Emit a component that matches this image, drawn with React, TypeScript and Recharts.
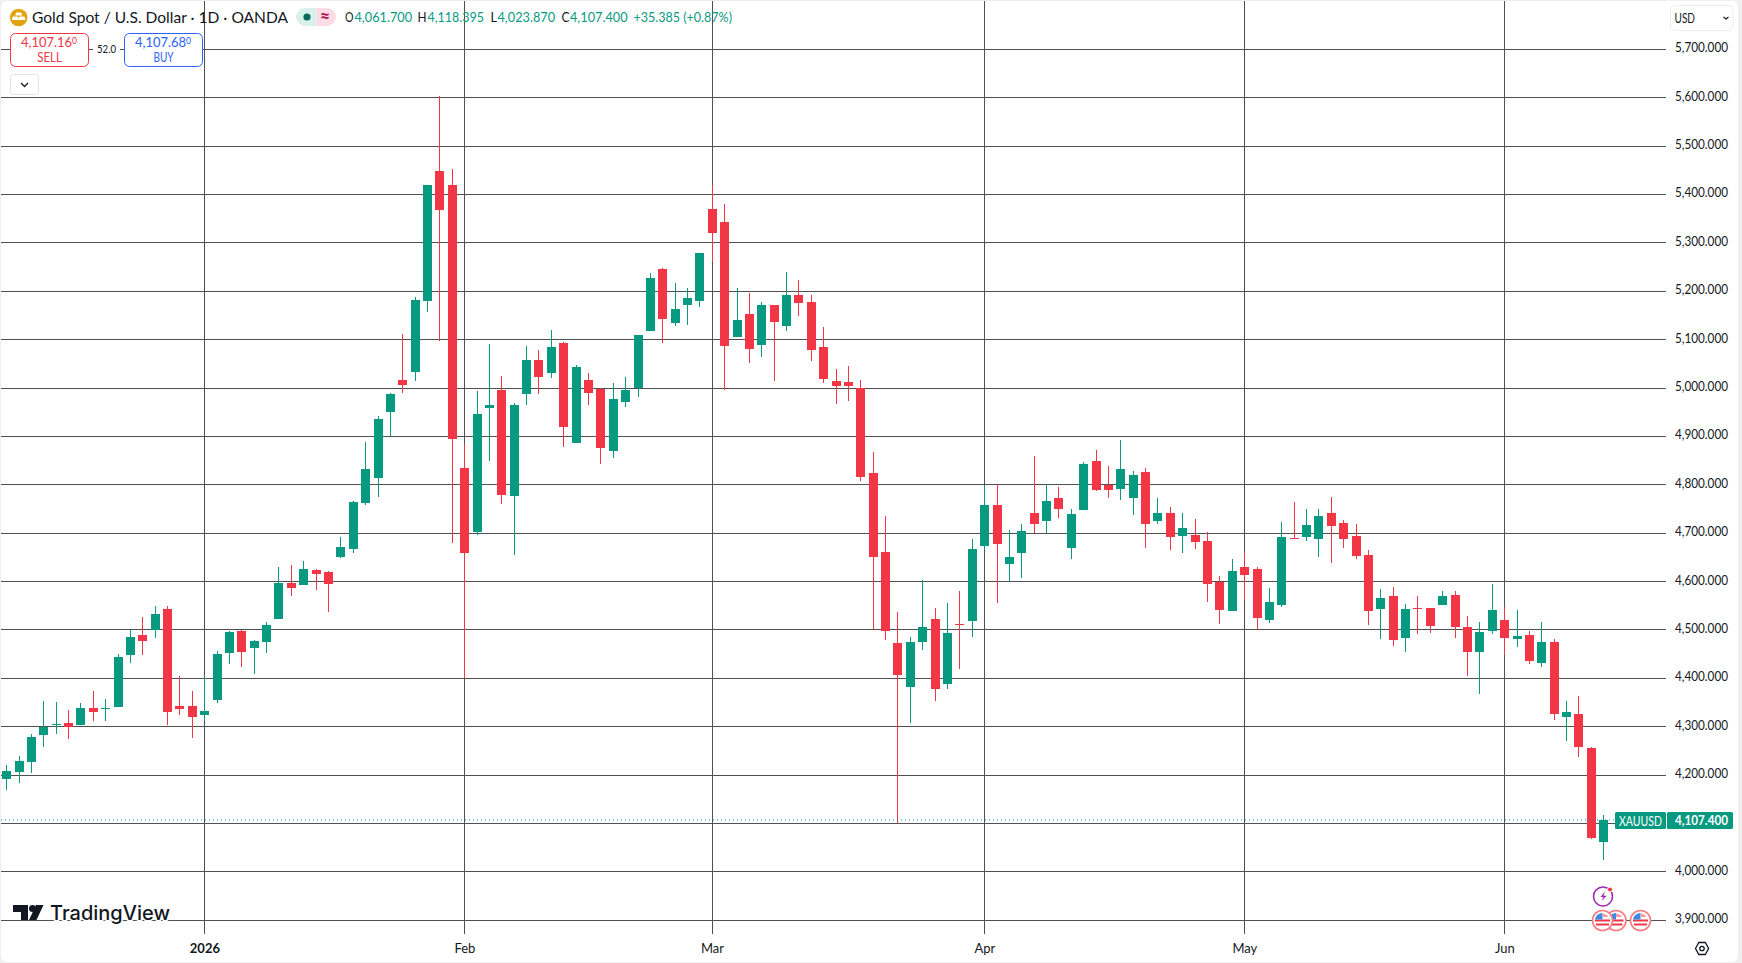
import { ComposedChart, Bar, XAxis, YAxis, CartesianGrid, ReferenceLine } from 'recharts';

const UP = '#089981';
const DOWN = '#F23645';
const FONT = 'Lato, "Noto Sans", sans-serif';

const opens = [
    4191, 4207, 4228, 4282, 4304, 4308, 4303, 4339, 4336, 4340,
    4449, 4490, 4500, 4544, 4343, 4343, 4325, 4356, 4453, 4498,
    4462, 4476, 4522, 4597, 4592, 4624, 4620, 4650, 4668, 4762,
    4815, 4950, 5016, 5033, 5180, 5448, 5419, 4834, 4702, 4958,
    4995, 4777, 4988, 5057, 5031, 5094, 4886, 5016, 4997, 4870,
    4971, 5000, 5118, 5245, 5134, 5172, 5180, 5369, 5344, 5105,
    5152, 5089, 5171, 5128, 5192, 5177, 5084, 5014, 5012, 5001,
    4824, 4661, 4474, 4382, 4476, 4523, 4388, 4512, 4518, 4674,
    4758, 4637, 4660, 4742, 4726, 4773, 4670, 4747, 4849, 4799,
    4792, 4773, 4826, 4726, 4742, 4695, 4696, 4684, 4600, 4540,
    4630, 4626, 4520, 4551, 4690, 4693, 4687, 4742, 4721, 4694,
    4655, 4544, 4570, 4484, 4546, 4546, 4551, 4573, 4506, 4455,
    4497, 4521, 4482, 4490, 4431, 4475, 4321, 4327, 4256, 4061.7,
];
const highs = [
    4221, 4240, 4285, 4354, 4351, 4335, 4349, 4374, 4358, 4451,
    4500, 4527, 4550, 4550, 4405, 4374, 4403, 4457, 4498, 4500,
    4480, 4517, 4630, 4635, 4643, 4626, 4622, 4692, 4767, 4889,
    4943, 4989, 5111, 5189, 5419, 5603, 5452, 4885, 4993, 5092,
    5024, 4970, 5086, 5078, 5119, 5096, 5047, 5032, 5001, 5010,
    5022, 5109, 5237, 5249, 5218, 5206, 5280, 5419, 5380, 5206,
    5196, 5177, 5171, 5239, 5223, 5192, 5127, 5039, 5045, 5016,
    4868, 4736, 4538, 4486, 4604, 4546, 4556, 4581, 4688, 4799,
    4802, 4707, 4719, 4859, 4802, 4796, 4750, 4847, 4872, 4839,
    4892, 4828, 4835, 4773, 4754, 4742, 4729, 4703, 4612, 4647,
    4661, 4630, 4587, 4723, 4765, 4750, 4750, 4775, 4728, 4719,
    4666, 4585, 4589, 4554, 4570, 4546, 4581, 4581, 4529, 4517,
    4595, 4548, 4542, 4498, 4517, 4482, 4354, 4364, 4258, 4118.395,
];
const lows = [
    4170, 4183, 4205, 4259, 4285, 4274, 4303, 4311, 4311, 4340,
    4431, 4449, 4484, 4303, 4325, 4276, 4311, 4350, 4429, 4424,
    4410, 4453, 4522, 4571, 4592, 4582, 4538, 4648, 4660, 4758,
    4774, 4900, 4990, 5015, 5157, 5097, 4680, 4400, 4696, 4849,
    4760, 4655, 4965, 4988, 5021, 4878, 4886, 4965, 4843, 4855,
    4961, 4981, 5118, 5093, 5128, 5130, 5167, 5260, 4996, 5105,
    5052, 5064, 5015, 5118, 5149, 5056, 5010, 4968, 4973, 4808,
    4503, 4479, 4101, 4307, 4458, 4353, 4378, 4419, 4485, 4666,
    4555, 4602, 4608, 4701, 4700, 4732, 4646, 4747, 4788, 4773,
    4769, 4738, 4670, 4718, 4666, 4660, 4668, 4557, 4512, 4540,
    4561, 4503, 4515, 4548, 4687, 4683, 4650, 4639, 4670, 4646,
    4511, 4482, 4466, 4455, 4491, 4493, 4551, 4484, 4404, 4367,
    4491, 4449, 4464, 4429, 4424, 4313, 4270, 4238, 4069, 4023.87,
];
const closes = [
    4209, 4230, 4279, 4299, 4306, 4299, 4339, 4331, 4339, 4444,
    4486, 4478, 4533, 4331, 4337, 4321, 4333, 4451, 4496, 4455,
    4478, 4511, 4597, 4586, 4626, 4615, 4596, 4672, 4765, 4833,
    4937, 4987, 5006, 5181, 5419, 5368, 4895, 4659, 4946, 4964,
    4779, 4964, 5057, 5023, 5084, 4919, 5043, 4990, 4876, 4977,
    4995, 5109, 5227, 5143, 5163, 5185, 5278, 5320, 5087, 5140,
    5081, 5171, 5136, 5192, 5176, 5079, 5019, 5004, 5004, 4816,
    4650, 4497, 4406, 4476, 4507, 4378, 4494, 4511, 4668, 4758,
    4677, 4651, 4705, 4718, 4767, 4749, 4740, 4843, 4790, 4790,
    4833, 4820, 4720, 4742, 4693, 4711, 4681, 4596, 4542, 4622,
    4613, 4524, 4558, 4692, 4687, 4717, 4736, 4714, 4689, 4652,
    4540, 4566, 4480, 4544, 4544, 4509, 4570, 4507, 4455, 4496,
    4542, 4484, 4488, 4435, 4475, 4327, 4331, 4259, 4071, 4107.4,
];

const monthTicks = [16, 37, 57, 79, 100, 121];
const monthLabels = ['2026', 'Feb', 'Mar', 'Apr', 'May', 'Jun'];
const priceTicks = [3900, 4000, 4100, 4200, 4300, 4400, 4500, 4600, 4700, 4800, 4900, 5000, 5100, 5200, 5300, 5400, 5500, 5600, 5700];
const lastPrice = 4107.4;

const candles = opens.map((open, i) => ({
    idx: i,
    open,
    close: closes[i],
    high: highs[i],
    low: lows[i],
    range: [lows[i], highs[i]],
}));

// y/height of the bar cover the high-low span, the body is worked out from that
function Candle(props: any) {
    const { x, y, width, height, payload } = props;
    const perUnit = height / (payload.high - payload.low);
    const top = y + (payload.high - Math.max(payload.open, payload.close)) * perUnit;
    const bodyH = Math.max(Math.abs(payload.open - payload.close) * perUnit, 1);
    const color = payload.close >= payload.open ? UP : DOWN;
    const mid = Math.round(x + width / 2) - 1;
    return (
        <g shapeRendering="crispEdges">
            <rect x={mid} y={y} width={1} height={height} fill={color} />
            <rect x={mid - 4} y={top} width={9} height={bodyH} fill={color} />
        </g>
    );
}

function MonthTick({ x, y, payload }: any) {
    const label = monthLabels[monthTicks.indexOf(payload.value)];
    return (
        <text x={x} y={y + 11} textAnchor="middle" fontFamily={FONT} fontSize={13} fontWeight={label === '2026' ? 700 : 400} fill="#131722">
            {label}
        </text>
    );
}

function PriceTick({ x, y, payload }: any) {
    return (
        <text x={x} y={y + 3} fontFamily={FONT} fontSize={13} fill="#131722" textLength={53} lengthAdjust="spacingAndGlyphs">
            {payload.value.toLocaleString('en-US', { minimumFractionDigits: 3 })}
        </text>
    );
}

function Label({ x, y, w, size = 13.5, color = '#131722', weight = 400, children }: any) {
    return (
        <text x={x} y={y} fontFamily={FONT} fontSize={size} fill={color} fontWeight={weight} textLength={w} lengthAdjust="spacingAndGlyphs">
            {children}
        </text>
    );
}

function QuoteBox({ x, color, price, side, sideW }: any) {
    return (
        <g>
            <rect x={x + 0.5} y={33.5} width={78} height={33} rx={5} fill="#fff" stroke={color} />
            <text x={x + 11} y={47} fontFamily={FONT} fontSize={13.5} fill={color} textLength={56} lengthAdjust="spacingAndGlyphs">
                {price}
                <tspan fontSize={9} dy={-3}>0</tspan>
            </text>
            <Label x={x + 39.5 - sideW / 2} y={61.5} w={sideW} size={12.5} color={color}>{side}</Label>
        </g>
    );
}

function Flag({ cx, cy }: any) {
    return (
        <g>
            <circle cx={cx} cy={cy} r={10} fill="#fff" stroke="#F77C80" strokeWidth={1.6} />
            <rect x={cx - 7.5} y={cy - 1} width={15} height={2} fill="#F23645" />
            <rect x={cx - 6.5} y={cy + 3} width={13} height={2} fill="#F23645" />
            <path d={`M${cx - 7.5} ${cy - 1}a7.5 7.5 0 0 1 7.5 -6.5v6.5z`} fill="#3D8BE8" />
            <path d={`M${cx} ${cy - 7}a7.5 7.5 0 0 1 6 3.5h-6z`} fill="#F89DA3" />
        </g>
    );
}

function Overlay() {
    return (
        <svg width={1742} height={963} style={{ position: 'absolute', left: 0, top: 0 }}>
            {/* header */}
            <circle cx={18.7} cy={17.5} r={8.8} fill="#E0A30F" />
            <path d="M16.2 12.5h5l1 3h-7zM12.8 16.5h5.2l.8 3.4h-7zM19.2 16.5h5.2l1 3.4h-7z" fill="#fff" />
            <Label x={32} y={22.5} w={256} size={16}>Gold Spot  /  U.S. Dollar · 1D · OANDA</Label>
            <path d="M305 8h11.5v18H305a9 9 0 0 1 0-18z" fill="#D9F0EC" />
            <path d="M316.5 8H327a9 9 0 0 1 0 18h-10.500z" fill="#FBDCE4" />
            <circle cx={307} cy={17} r={3.6} fill="#0B6B5B" />
            <text x={325} y={22.5} textAnchor="middle" fontFamily={FONT} fontSize={18} fontWeight={700} fill="#B2175C">≈</text>
            <Label x={345} y={22} w={8.500}>O</Label>
            <Label x={354.500} y={22} w={57.500} color={UP}>4,061.700</Label>
            <Label x={417.500} y={22} w={9}>H</Label>
            <Label x={427.500} y={22} w={56.500} color={UP}>4,118.395</Label>
            <Label x={490.500} y={22} w={6.500}>L</Label>
            <Label x={497.500} y={22} w={57.500} color={UP}>4,023.870</Label>
            <Label x={561.500} y={22} w={8}>C</Label>
            <Label x={570} y={22} w={57.500} color={UP}>4,107.400</Label>
            <Label x={633.500} y={22} w={98.500} color={UP}>+35.385 (+0.87%)</Label>

            {/* sell / buy */}
            <rect x={93} y={42} width={27} height={14} fill="#fff" />
            <Label x={97} y={53} w={19} size={11.5}>52.0</Label>
            <QuoteBox x={10} color={DOWN} price="4,107.16" side="SELL" sideW={24.500} />
            <QuoteBox x={124} color="#2962FF" price="4,107.68" side="BUY" sideW={20} />
            <rect x={10.500} y={74.500} width={28} height={20} rx={3} fill="#fff" stroke="#E0E3EB" />
            <path d="M21 83l3.500 3.500 3.500-3.500" fill="none" stroke="#131722" strokeWidth={1.3} />

            {/* currency */}
            <rect x={1670.500} y={5.500} width={62.500} height={25} rx={4} fill="#fff" stroke="#E9ECF2" />
            <Label x={1674.500} y={22.500} w={20.500} size={14}>USD</Label>
            <path d="M1723.500 17l2.500 2 2.500-2" fill="none" stroke="#131722" strokeWidth={1.2} />

            {/* last price tag */}
            <rect x={1615} y={812} width={51} height={17} rx={1.500} fill={UP} />
            <rect x={1667} y={812} width={66} height={17} rx={1.500} fill={UP} />
            <Label x={1619} y={825.500} w={43} size={14} color="#fff">XAUUSD</Label>
            <Label x={1675} y={825} w={53} size={13} color="#fff" weight={700}>4,107.400</Label>

            {/* event markers */}
            <circle cx={1603} cy={896.500} r={9.500} fill="#fff" stroke="#9C27B0" strokeWidth={1.600} />
            <path d="M1605 891.500l-4.500 5.500h3l-2 4.500 5-5.800h-3z" fill="#9C27B0" />
            <circle cx={1610} cy={889.500} r={2.500} fill={DOWN} stroke="#fff" />
            <Flag cx={1616} cy={920.500} />
            <Flag cx={1602.500} cy={920.500} />
            <Flag cx={1640.500} cy={920.500} />

            {/* settings */}
            <path d="M1695.500 948.500l3.300-6h6.500l3.300 6-3.300 6h-6.500z" fill="none" stroke="#131722" strokeWidth={1.300} />
            <circle cx={1702} cy={948.500} r={2.200} fill="none" stroke="#131722" strokeWidth={1.300} />

            {/* logo */}
            <path d="M13 905h15v15h-7v-8h-8zM36 905h7.500l-7 15h-7.500z" fill="#131722" />
            <circle cx={32.500} cy={908.500} r={3.500} fill="#131722" />
            <text x={50} y={920} fontFamily="Inter, sans-serif" fontSize={20} fontWeight={500} fill="#131722" textLength={120} lengthAdjust="spacingAndGlyphs" stroke="#fff" strokeWidth={3} paintOrder="stroke">
                TradingView
            </text>
        </svg>
    );
}

export default function App() {
    return (
        <div style={{ position: 'absolute', left: 0, top: 0, width: 1742, height: 963, background: '#EFEFEF', overflow: 'hidden' }}>
            <div style={{ position: 'absolute', left: 1, top: 1, width: 1737, height: 961, background: '#fff', borderRadius: 6 }} />
            <div style={{ position: 'absolute', left: 0, top: 0 }}>
                <ComposedChart width={1742} height={963} data={candles} margin={{ top: 1, right: 0, bottom: 0, left: 1 }}>
                    <CartesianGrid stroke="#505050" strokeWidth={1} shapeRendering="crispEdges" syncWithTicks />
                    <XAxis
                        dataKey="idx"
                        type="number"
                        domain={[-0.47, 134.02]}
                        allowDataOverflow
                        ticks={monthTicks}
                        interval={0}
                        height={29}
                        axisLine={false}
                        tickLine={false}
                        tick={<MonthTick />}
                    />
                    <YAxis
                        orientation="right"
                        type="number"
                        domain={[3871.7, 5799.8]}
                        allowDataOverflow
                        ticks={priceTicks}
                        interval={0}
                        width={76}
                        axisLine={false}
                        tickLine={false}
                        tickSize={0}
                        tickMargin={9}
                        tick={<PriceTick />}
                    />
                    <ReferenceLine y={lastPrice} stroke={UP} strokeDasharray="1 3" />
                    <Bar dataKey="range" barSize={9} shape={<Candle />} isAnimationActive={false} />
                </ComposedChart>
            </div>
            <Overlay />
        </div>
    );
}
